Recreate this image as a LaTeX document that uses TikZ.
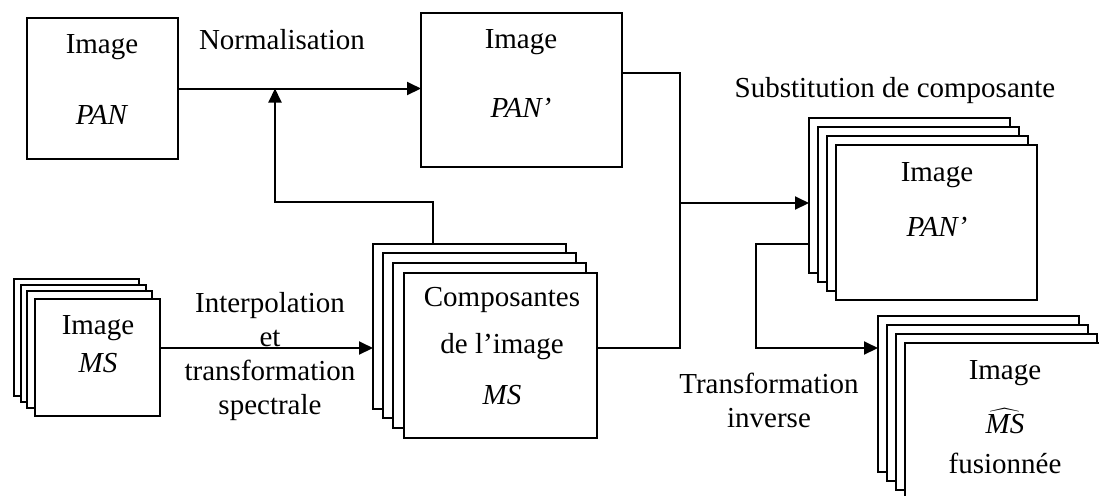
\documentclass[tikz,border=0pt]{standalone}
\usepackage{fontspec}
\setmainfont{Liberation Serif}
\usetikzlibrary{arrows.meta,calc}

\tikzset{
  frame/.style={draw, line width=1pt, fill=white, inner sep=0pt, outer sep=0pt, anchor=north west},
  lbl/.style={inner sep=0pt, font=\fontsize{14.5}{17}\selectfont, align=center},
  wire/.style={line width=1pt},
  flow/.style={wire, -{Triangle[length=7pt,width=6.5pt]}}
}
\newcommand{\sym}[1]{\textit{#1}}

\begin{document}
\begin{tikzpicture}[x=0.5pt, y=-0.5pt]
  \useasboundingbox (0,0) rectangle (1099,495);
  \clip (0,0) rectangle (1099,495);

  % panchromatic image
  \node[frame, minimum width=75.5pt, minimum height=70.5pt] (pan) at (27,18) {};
  \node[lbl] (panI) at (102,47) {Image};
  \node[lbl] (panT) at (102,115) {\sym{PAN}};

  % normalised panchromatic image
  \node[frame, minimum width=100.5pt, minimum height=77pt] (panp) at (421,13) {};
  \node[lbl] (panpI) at (521,42) {Image};
  \node[lbl] (panpT) at (521,108) {\sym{PAN’}};

  \node[lbl] (norm) at (282,40) {Normalisation};

  % multispectral image (stack of bands)
  \node[frame, minimum width=62.5pt, minimum height=58.5pt] (ms1) at (14,279) {};
  \node[frame, minimum width=62.5pt, minimum height=58.5pt] (ms2) at (21,285) {};
  \node[frame, minimum width=62.5pt, minimum height=58.5pt] (ms3) at (27,291) {};
  \node[frame, minimum width=62.5pt, minimum height=58.5pt] (ms4) at (35,299) {};
  \node[lbl] (msI) at (98,328) {Image};
  \node[lbl] (msT) at (98,363) {\sym{MS}};

  % spectral components
  \node[frame, minimum width=96.5pt, minimum height=82.5pt] (cs1) at (373,244) {};
  \node[frame, minimum width=96.5pt, minimum height=82.5pt] (cs2) at (383,253) {};
  \node[frame, minimum width=96.5pt, minimum height=82.5pt] (cs3) at (393,263) {};
  \node[frame, minimum width=96.5pt, minimum height=82.5pt] (cs4) at (404,273) {};
  \node[lbl] (csA) at (502,300) {Composantes};
  \node[lbl] (csB) at (502,347) {de l’image};
  \node[lbl] (csC) at (502,395) {\sym{MS}};

  \node[lbl] (interp) at (270,357) {Interpolation\\et\\transformation\\spectrale};

  % components with substituted PAN'
  \node[frame, minimum width=100.5pt, minimum height=77.5pt] (ps1) at (809,118) {};
  \node[frame, minimum width=100.5pt, minimum height=77.5pt] (ps2) at (818,127) {};
  \node[frame, minimum width=100.5pt, minimum height=77.5pt] (ps3) at (827,136) {};
  \node[frame, minimum width=100.5pt, minimum height=77.5pt] (ps4) at (836,145) {};
  \node[lbl] (psI) at (937,175) {Image};
  \node[lbl] (psT) at (937,227) {\sym{PAN’}};

  \node[lbl] (subst) at (895,91) {Substitution de composante};

  % fused multispectral image
  \node[frame, minimum width=100.5pt, minimum height=78pt] (fs1) at (878,316) {};
  \node[frame, minimum width=100.5pt, minimum height=78pt] (fs2) at (887,325) {};
  \node[frame, minimum width=100.5pt, minimum height=78pt] (fs3) at (896,334) {};
  \node[frame, minimum width=100.5pt, minimum height=78pt] (fs4) at (905,343) {};
  \node[lbl] (fsI) at (1005,373) {Image};
  \node[lbl] (fsT) at (1005,421) {$\widehat{\mbox{\sym{MS}}}$};
  \node[lbl] (fsF) at (1005,463) {fusionnée};

  \node[lbl] (inv) at (769,400) {Transformation\\inverse};

  % connectors
  \draw[flow] (pan.east) -- (pan.east -| panp.west);

  \coordinate (cup) at ($(cs1.north west)+(60,0)$);
  \coordinate (bend) at (275,202);
  \draw[flow] (cup) |- (bend) -- (bend |- pan.east);

  \coordinate (mout) at ($(ms4.north east)+(0,49)$);
  \draw[flow] (mout) -- (mout -| cs1.west);

  \coordinate (pout) at ($(panp.north east)+(0,60)$);
  \coordinate (cout) at ($(cs4.north east)+(0,75)$);
  \coordinate (bus) at (680,203);
  \draw[wire] (pout) -| (bus) |- (cout);
  \draw[flow] (bus) -- (bus -| ps1.west);

  \coordinate (iout) at ($(ps1.north west)+(0,126)$);
  \coordinate (ibend) at (756,348);
  \draw[flow] (iout) -| (ibend) -- (ibend -| fs1.west);
\end{tikzpicture}
\end{document}
